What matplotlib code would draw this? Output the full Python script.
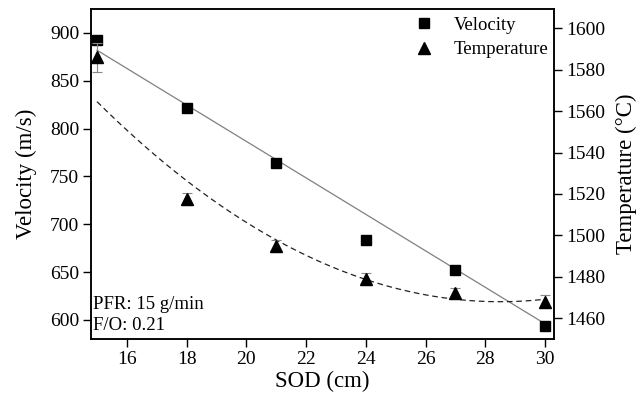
import matplotlib
matplotlib.use("Agg")
import matplotlib.pyplot as plt
import numpy as np
from matplotlib.lines import Line2D

# ---- data ----
sod = [15, 18, 21, 24, 27, 30]
velocity = [893, 822, 764, 683, 652, 594]
temperature = [1586, 1517.5, 1495, 1479, 1472, 1468]
temperature_err = [7, 3, 3, 3, 2.5, 3]

# fit parameters
vel_fit_slope = -19.07
vel_fit_intercept = 1168.0
temp_fit_a = 0.53      # T = a*(x-h)^2 + k
temp_fit_h = 28.5
temp_fit_k = 1468.0

x_ticks = [16, 18, 20, 22, 24, 26, 28, 30]
v_ticks = [600, 650, 700, 750, 800, 850, 900]
t_ticks = [1460, 1480, 1500, 1520, 1540, 1560, 1580, 1600]

plt.rcParams['font.family'] = ['Liberation Serif', 'DejaVu Serif']
plt.rcParams['mathtext.fontset'] = 'stix'

fig = plt.figure(figsize=(6.44, 4.0), dpi=100)
ax = fig.add_axes([91/644, 61/400, (554-91)/644, (339-9)/400])
ax2 = ax.twinx()

xf = np.linspace(15, 30, 200)
ax.plot(xf, vel_fit_slope * xf + vel_fit_intercept, color='#808080', lw=0.9, zorder=2)
ax.plot(sod, velocity, 's', color='black', ms=7, zorder=4)

ax2.plot(xf, temp_fit_a * (xf - temp_fit_h) ** 2 + temp_fit_k, color='#222222',
         lw=0.9, ls=(0, (4.5, 3)), zorder=2)
ax2.errorbar(sod, temperature, yerr=temperature_err, fmt='none', ecolor='#888888',
             elinewidth=0.8, capsize=3.5, capthick=0.8, zorder=3)
ax2.plot(sod, temperature, '^', color='black', ms=8, zorder=4)

ax.set_xlim(14.8, 30.3)
ax.set_ylim(580, 925)
ax2.set_ylim(1450, 1609.3)

ax.set_xticks(x_ticks)
ax.set_yticks(v_ticks)
ax2.set_yticks(t_ticks)

for a in (ax, ax2):
    a.tick_params(direction='out', length=5.5, width=1, labelsize=14, pad=3)
    for s in a.spines.values():
        s.set_linewidth(1.1)
ax.tick_params(axis='x', top=False)

ax.set_xlabel('SOD (cm)', fontsize=16.5, labelpad=2)
ax.set_ylabel('Velocity (m/s)', fontsize=16.5, labelpad=9)
ax2.set_ylabel('Temperature (°C)', fontsize=16.5, labelpad=8)

ax.text(0.005, 0.015, 'PFR: 15 g/min\nF/O: 0.21', transform=ax.transAxes,
        ha='left', va='bottom', fontsize=13.5, linespacing=1.3)

handles = [Line2D([], [], marker='s', ls='none', color='black', ms=7),
           Line2D([], [], marker='^', ls='none', color='black', ms=8)]
ax2.legend(handles, ['Velocity', 'Temperature'], loc='upper right',
           frameon=False, fontsize=13.5, handlelength=1.2, handletextpad=1.0,
           borderaxespad=0.0, labelspacing=0.4, bbox_to_anchor=(1.005, 1.0))

fig.savefig('out.png', dpi=100)
